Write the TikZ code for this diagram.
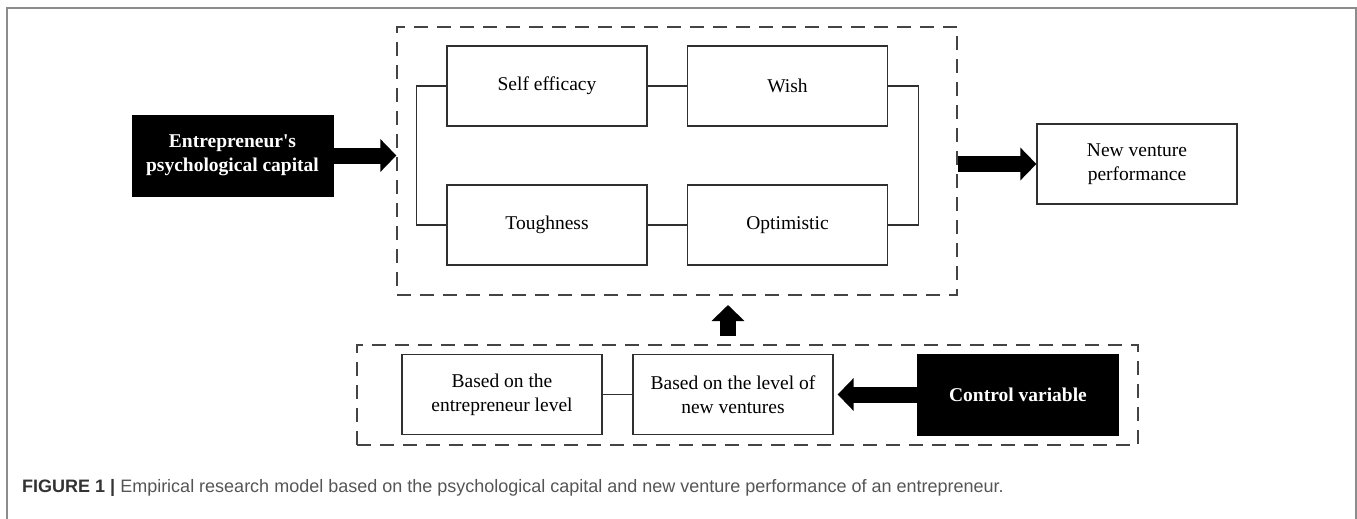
\documentclass[tikz,border=0pt]{standalone}
\usepackage{fontspec}
\setmainfont{Liberation Serif}
\newfontfamily\capfont{Liberation Sans}
\usepackage{tikz}
\usepackage{xcolor}
\usetikzlibrary{
  positioning, arrows.meta, calc,
}
\definecolor{cFrame}   {HTML}{8C8C8C}
\definecolor{cLine}    {HTML}{303030}
\definecolor{cDash}    {HTML}{444444}
\definecolor{cCapHead} {HTML}{333333}
\definecolor{cCapText} {HTML}{555555}

\tikzset{
  factor/.style={draw=cLine, line width=1.3pt, minimum width=200pt, minimum height=80pt,
    inner sep=0pt, align=center, font=\fontsize{19.5}{24}\selectfont},
  keybox/.style={fill=black, draw=black, text=white, minimum width=201pt, minimum height=81pt,
    inner sep=0pt, align=center, font=\bfseries\fontsize{19.5}{24}\selectfont},
  groupbox/.style={draw=cDash, line width=1.3pt, dash pattern=on 14pt off 9pt, inner sep=0pt},
  fatarrow/.style={line width=16pt, -{Triangle[length=16pt, width=32pt]}},
  link/.style={draw=cLine, line width=1.3pt},
}

\begin{document}
\begin{tikzpicture}[x=1pt, y=-1pt]
  \useasboundingbox (0,0) rectangle (1357,519);
  % frame, open at the bottom
  \draw[cFrame, line width=1.6pt] (7,519) -- (7,8) -- (1356,8) -- (1356,519);

  % dashed groups
  \node[groupbox, minimum width=560pt, minimum height=268pt] (capgroup) at (677,161) {};
  \node[groupbox, minimum width=781pt, minimum height=100pt] (ctrlgroup) at (747.5,395) {};

  % the four dimensions
  \node[factor] (selfeff) at (547,86)    {Self efficacy};
  \node[factor] (wish)    at (787.5,86)  {Wish};
  \node[factor] (tough)   at (547,225)   {Toughness};
  \node[factor] (optim)   at (787.5,225) {Optimistic};
  \draw[link] (selfeff) -- (wish);
  \draw[link] (tough) -- (optim);
  \draw[link] (selfeff.west) -- ++(-30,0) |- (tough.west);
  \draw[link] (wish.east) -- ++(30,0) |- (optim.east);

  \node[keybox] (entre) at (232.5,155.5) {Entrepreneur\textquotesingle s\\psychological capital};
  \node[factor] (perf) at (1137,164) {New venture\\performance};

  % control variables
  \node[factor] (entlevel) at (502,394.5)  {Based on the\\entrepreneur level};
  \node[factor] (nvlevel)  at (733,394.5)  {Based on the level of\\new ventures};
  \node[keybox] (ctrl)     at (1018,394.5) {Control variable};
  \draw[link] (entlevel) -- (nvlevel);

  \draw[fatarrow] (entre.east) -- (capgroup.west |- entre.east);
  \draw[fatarrow] (capgroup.east |- perf.west) -- (perf.west);
  \draw[fatarrow] (ctrl.west) -- ([xshift=4pt]nvlevel.east);
  \coordinate (upfoot) at (728,336);
  \coordinate (uptip)  at (728,305);
  \draw[fatarrow] (upfoot) -- (uptip);

  \node[anchor=base west, inner sep=0pt, text=cCapText,
        font=\capfont\fontsize{18}{21}\selectfont] (caption) at (22,492)
    {{\bfseries\color{cCapHead}FIGURE 1 |} Empirical research model based on the psychological capital and new venture performance of an entrepreneur.};
\end{tikzpicture}
\end{document}
